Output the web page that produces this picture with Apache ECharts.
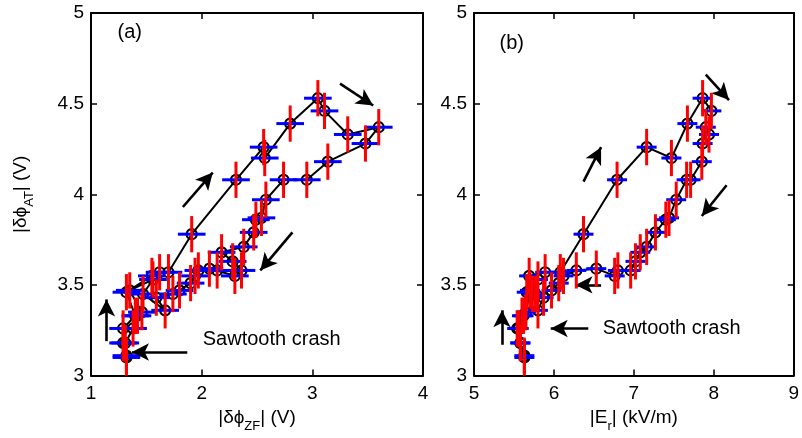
<!DOCTYPE html>
<html><head><meta charset="utf-8">
<script src="https://cdn.jsdelivr.net/npm/echarts@6/dist/echarts.min.js"></script>
<style>html,body{margin:0;padding:0;background:#fff}#c{width:802px;height:438px}</style>
</head><body><div id="c"></div>
<script>
// shared |δϕ_AT| values (V), time-ordered
const yAT = [3.10,3.18,3.26,3.33,3.46,3.55,3.57,3.57,3.78,4.08,4.26,4.20,4.39,4.53,4.46,4.33,4.37,4.28,4.18,4.08,4.08,3.97,3.87,3.86,3.79,3.71,3.68,3.63,3.58,3.58,3.55,3.59,3.58,3.55,3.51,3.47,3.45,3.43,3.36,3.45,3.53,3.47,3.35,3.33,3.26,3.18,3.11];
// |δϕ_ZF| (V) — panel (a)
const xZF = [1.32,1.29,1.29,1.40,1.32,1.55,1.62,1.70,1.91,2.31,2.56,2.57,2.80,3.05,3.11,3.32,3.60,3.48,3.14,2.95,2.74,2.58,2.54,2.49,2.47,2.38,2.18,2.28,2.36,2.14,2.30,2.07,1.97,1.94,1.90,1.80,1.74,1.59,1.67,1.47,1.56,1.35,1.46,1.42,1.38,1.31,1.32];
// |E_r| (kV/m) — panel (b)
const xEr = [5.63,5.58,5.54,5.62,5.66,5.69,5.89,6.08,6.37,6.79,7.16,7.47,7.67,7.86,7.97,7.94,7.90,7.86,7.85,7.71,7.66,7.53,7.44,7.40,7.27,7.16,7.08,7.02,6.96,6.80,6.76,6.53,6.28,6.12,6.06,5.97,5.77,5.87,5.80,5.73,5.80,5.70,5.65,5.60,5.56,5.58,5.63];
const errY = 0.1, errZF = 0.125, errEr = 0.125;
const xTicksA = [1,2,3,4], xTicksB = [5,6,7,8,9], yTicks = [3,3.5,4,4.5,5];
// annotation arrows (data coords) [from, to]
const arrowsA = [[[1.83,3.93],[2.10,4.12]],[[3.25,4.61],[3.55,4.49]],[[2.82,3.79],[2.53,3.58]],[[1.14,3.19],[1.14,3.42]],[[1.87,3.13],[1.37,3.13]]];
const arrowsB = [[[6.37,4.07],[6.59,4.26]],[[7.90,4.66],[8.19,4.52]],[[8.16,4.05],[7.85,3.88]],[[6.59,3.50],[6.27,3.50]],[[5.35,3.17],[5.35,3.36]],[[6.43,3.26],[5.96,3.26]]];
const labelsA = [{t:'(a)', p:[1.24,4.89]},{t:'Sawtooth crash', p:[2.01,3.20]}];
const labelsB = [{t:'(b)', p:[5.32,4.83]},{t:'Sawtooth crash', p:[6.61,3.26]}];

const FONT = 'Liberation Sans';
const chart = echarts.init(document.getElementById('c'), null, {renderer:'canvas'});

function xAx(grid, min, max, pos, labels, name){
  return {type:'value', gridIndex:grid, min, max, interval:1, position:pos,
    axisLine:{show:true, onZero:false, lineStyle:{color:'#000', width:2}},
    axisTick:{show:true, inside:true, length:6, lineStyle:{color:'#000', width:1.5}},
    splitLine:{show:false},
    axisLabel:{show:labels, color:'#000', fontSize:19, fontFamily:FONT, margin:9},
    name: name || '', nameLocation:'middle', nameGap:26,
    nameTextStyle: name ? richName() : undefined};
}
function yAx(grid, pos, labels, name){
  return {type:'value', gridIndex:grid, min:3, max:5, interval:0.5, position:pos,
    axisLine:{show:true, onZero:false, lineStyle:{color:'#000', width:2}},
    axisTick:{show:true, inside:true, length:6, lineStyle:{color:'#000', width:1.5}},
    splitLine:{show:false},
    axisLabel:{show:labels, color:'#000', fontSize:19, fontFamily:FONT, margin:7},
    name: name || '', nameLocation:'middle', nameGap:55,
    nameTextStyle: name ? richName() : undefined};
}
function richName(){
  return {color:'#000', fontFamily:FONT, fontSize:19,
    rich:{m:{fontSize:19, fontFamily:FONT, color:'#000', lineHeight:30, verticalAlign:'middle'},
          s:{fontSize:13, fontFamily:FONT, color:'#000', lineHeight:13, verticalAlign:'bottom'}}};
}
function pairs(xs){ return xs.map((x,i)=>[x, yAT[i]]); }
function errSeries(xi, yi, xs, dir, e, color){
  return {type:'custom', xAxisIndex:xi, yAxisIndex:yi, data:pairs(xs), silent:true, z:dir==='v'?5:4,
    encode:{x:0, y:1},
    renderItem:function(params, api){
      const x = api.value(0), y = api.value(1);
      const a = dir==='v' ? api.coord([x, y-e]) : api.coord([x-e, y]);
      const b = dir==='v' ? api.coord([x, y+e]) : api.coord([x+e, y]);
      return {type:'line', shape:{x1:a[0], y1:a[1], x2:b[0], y2:b[1]},
        style:{stroke:color, lineWidth:3}};
    }};
}
function lineSeries(xi, yi, xs, arrows, labels){
  return {type:'line', xAxisIndex:xi, yAxisIndex:yi, data:pairs(xs), z:3,
    symbol:'circle', symbolSize:10, showSymbol:true,
    itemStyle:{color:'rgba(0,0,0,0)', borderColor:'#000', borderWidth:2.2},
    lineStyle:{color:'#000', width:2},
    markLine:{silent:true, symbol:['none','arrow'], symbolSize:[13,17], precision:4,
      label:{show:false}, lineStyle:{color:'#000', width:2.6, type:'solid'},
      emphasis:{disabled:true},
      data: arrows.map(a=>[{coord:a[0]},{coord:a[1]}])},
    markPoint:{silent:true, symbolSize:0,
      data: labels.map(l=>({coord:l.p, value:l.t,
        label:{show:true, position:'right', distance:0, formatter:l.t, color:'#000', fontSize:20, fontFamily:FONT}}))}
  };
}

chart.setOption({
  animation:false,
  backgroundColor:'#fff',
  grid:[{left:91, top:13, width:332, height:365},{left:474, top:13, width:324, height:365}],
  xAxis:[
    xAx(0,1,4,'bottom',true,'{m||δϕ}{s|ZF}{m|| (V)}'),
    xAx(1,5,9,'bottom',true,'{m||E}{s|r}{m|| (kV/m)}'),
    xAx(0,1,4,'top',false),
    xAx(1,5,9,'top',false)
  ],
  yAxis:[
    yAx(0,'left',true,'{m||δϕ}{s|AT}{m|| (V)}'),
    yAx(1,'left',true),
    yAx(0,'right',false),
    yAx(1,'right',false)
  ],
  series:[
    lineSeries(0,0,xZF,arrowsA,labelsA),
    errSeries(0,0,xZF,'h',errZF,'#0000ff'),
    errSeries(0,0,xZF,'v',errY,'#ff0000'),
    lineSeries(1,1,xEr,arrowsB,labelsB),
    errSeries(1,1,xEr,'h',errEr,'#0000ff'),
    errSeries(1,1,xEr,'v',errY,'#ff0000')
  ]
});
</script></body></html>
